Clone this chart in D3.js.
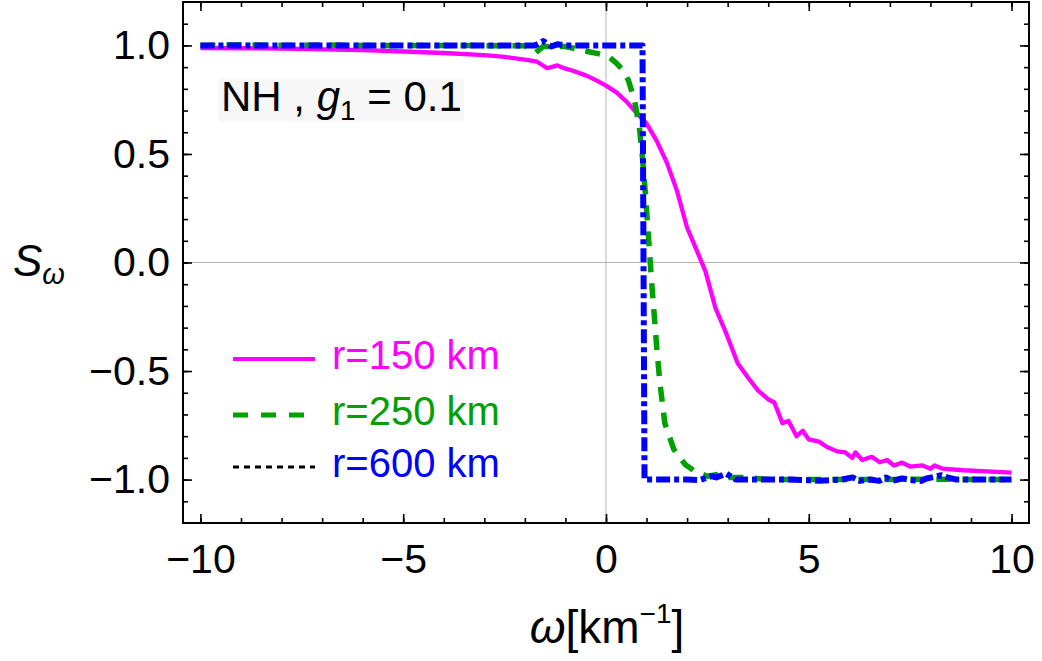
<!DOCTYPE html>
<html>
<head>
<meta charset="utf-8">
<script src="https://cdn.jsdelivr.net/npm/d3@7"></script>
<style>
  body { margin: 0; background: #fff; }
  text { font-family: "Liberation Sans", Arial, Helvetica, sans-serif; }
</style>
</head>
<body>
<script>
// series: [omega, S_omega]
var r150 = [
  [-10, 0.988], [-9, 0.987], [-8, 0.985], [-7, 0.982], [-6, 0.978], [-5, 0.972],
  [-4, 0.965], [-3, 0.955], [-2.5, 0.947], [-2, 0.935], [-1.7, 0.925], [-1.45, 0.895],
  [-1.2, 0.908], [-1.0, 0.893], [-0.8, 0.882], [-0.5, 0.862], [-0.25, 0.84], [0, 0.815],
  [0.25, 0.785], [0.5, 0.742], [0.75, 0.69], [1.0, 0.64], [1.25, 0.56], [1.5, 0.46],
  [1.75, 0.33], [2.0, 0.16], [2.25, 0.05], [2.45, -0.04], [2.7, -0.21], [2.95, -0.32],
  [3.25, -0.465], [3.5, -0.53], [3.75, -0.59], [4.0, -0.63], [4.15, -0.645], [4.35, -0.74],
  [4.5, -0.73], [4.7, -0.80], [4.85, -0.775], [5.0, -0.815], [5.25, -0.825], [5.45, -0.85],
  [5.7, -0.87], [5.9, -0.875], [6.07, -0.9], [6.15, -0.875], [6.32, -0.91], [6.55, -0.895],
  [6.75, -0.92], [6.93, -0.91], [7.1, -0.935], [7.3, -0.922], [7.5, -0.94], [7.8, -0.935],
  [8.0, -0.95], [8.1, -0.935], [8.3, -0.95], [8.8, -0.957], [9.4, -0.962], [10, -0.968]
];
var r250 = [
  [-10, 1.0], [-9, 1.003], [-8, 1.0], [-7, 1.002], [-6, 1.0], [-5, 1.0], [-4, 1.0],
  [-3, 0.999], [-2, 0.998], [-1.75, 0.965], [-1.55, 0.995], [-1.0, 0.995], [-0.75, 0.985],
  [-0.45, 0.972], [-0.2, 0.962], [0.05, 0.95], [0.25, 0.92], [0.4, 0.89], [0.55, 0.84],
  [0.7, 0.75], [0.82, 0.63], [0.9, 0.48], [0.97, 0.32], [1.02, 0.19], [1.07, 0.06],
  [1.12, -0.08], [1.18, -0.22], [1.25, -0.39], [1.33, -0.555], [1.45, -0.74], [1.67, -0.86],
  [1.95, -0.93], [2.2, -0.963], [2.5, -0.985], [2.72, -0.978], [3.0, -0.99], [3.46, -0.99],
  [4, -1.0], [5, -1.0], [6, -1.0], [7, -1.0], [8, -0.998], [9, -1.0], [10, -1.0]
];
var r600 = [
  [-10, 1.0], [-8, 1.0], [-6, 1.0], [-4, 1.0], [-2, 1.0], [-1.75, 1.0], [-1.55, 1.02],
  [-1.35, 0.995], [-1.2, 1.005], [-1.0, 1.0], [0, 1.0], [0.9, 1.0], [0.95, -1.0],
  [1.5, -1.0], [2.0, -1.0], [2.3, -1.003], [2.6, -0.985], [2.72, -0.99], [2.97, -0.973],
  [3.2, -1.0], [4.5, -1.0], [5.26, -1.005], [5.8, -1.0], [6.08, -0.99], [6.25, -1.006],
  [6.5, -1.0], [6.74, -1.006], [6.9, -0.99], [7.07, -1.005], [7.3, -0.995], [7.56, -1.003],
  [7.78, -1.006], [7.9, -0.995], [8.15, -0.985], [8.27, -0.98], [8.42, -0.99], [8.64, -1.0],
  [9.3, -1.0], [10, -1.0]
];

var xMajor = [-10, -5, 0, 5, 10];
var xMajorLabels = ["\u221210", "\u22125", "0", "5", "10"];
var xMinor = d3.range(-10, 11, 1);
var yMajor = [-1, -0.5, 0, 0.5, 1];
var yMajorLabels = ["\u22121.0", "\u22120.5", "0.0", "0.5", "1.0"];
var yMinor = [-1.1, -1.0, -0.9, -0.8, -0.7, -0.6, -0.5, -0.4, -0.3, -0.2, -0.1, 0, 0.1, 0.2, 0.3, 0.4, 0.5, 0.6, 0.7, 0.8, 0.9, 1.0, 1.1];
var legendLabels = ["r=150 km", "r=250 km", "r=600 km"];

var width = 1042, height = 661;
var plot = {left: 183, right: 1029, top: 2, bottom: 523};

var svg = d3.select("body").append("svg")
    .attr("width", width)
    .attr("height", height);

var x = d3.scaleLinear().domain([-10.43, 10.43]).range([plot.left, plot.right]);
var y = d3.scaleLinear().domain([-1.2, 1.2]).range([plot.bottom, plot.top]);

// zero lines
svg.append("line")
    .attr("x1", x(0)).attr("x2", x(0))
    .attr("y1", plot.top).attr("y2", plot.bottom)
    .attr("stroke", "#b4b4b4").attr("stroke-width", 1);
svg.append("line")
    .attr("x1", plot.left).attr("x2", plot.right)
    .attr("y1", y(0)).attr("y2", y(0))
    .attr("stroke", "#b4b4b4").attr("stroke-width", 1);

// annotation box
svg.append("rect")
    .attr("x", 218).attr("y", 78).attr("width", 246).attr("height", 44)
    .attr("fill", "#f7f7f7");

var series = [
    {name: legendLabels[0], values: r150, color: "#ff00ff", width: 4.3, dash: null},
    {name: legendLabels[1], values: r250, color: "#00a000", width: 5.5, dash: "15,11"},
    {name: legendLabels[2], values: r600, color: "#0000ff", width: 6, dash: "14,4,5,4"}
];

var line = d3.line()
    .x(d => x(d[0]))
    .y(d => y(d[1]));

svg.selectAll(".curve")
    .data(series)
    .enter()
    .append("path")
    .attr("class", "curve")
    .attr("fill", "none")
    .attr("stroke", d => d.color)
    .attr("stroke-width", d => d.width)
    .attr("stroke-dasharray", d => d.dash)
    .attr("stroke-linejoin", "round")
    .attr("d", d => line(d.values));

// axes, ticks pointing inward
function styleAxis(g) {
    g.select(".domain").remove();
    g.selectAll("line").attr("stroke", "#000").attr("stroke-width", 1.6);
    g.selectAll("text")
        .attr("fill", "#000")
        .style("font-family", "'Liberation Sans', Arial, Helvetica, sans-serif")
        .style("font-size", "41px");
}

svg.append("g")
    .attr("transform", `translate(0,${plot.bottom})`)
    .call(d3.axisBottom(x).tickValues(xMinor).tickSize(-5).tickFormat(""))
    .call(styleAxis);
svg.append("g")
    .attr("transform", `translate(0,${plot.bottom})`)
    .call(d3.axisBottom(x).tickValues(xMajor).tickSize(-9).tickPadding(21)
        .tickFormat((d, i) => xMajorLabels[i]))
    .call(styleAxis);
svg.append("g")
    .attr("transform", `translate(0,${plot.top})`)
    .call(d3.axisTop(x).tickValues(xMinor).tickSize(-5).tickFormat(""))
    .call(styleAxis);
svg.append("g")
    .attr("transform", `translate(0,${plot.top})`)
    .call(d3.axisTop(x).tickValues(xMajor).tickSize(-9).tickFormat(""))
    .call(styleAxis);

svg.append("g")
    .attr("transform", `translate(${plot.left},0)`)
    .call(d3.axisLeft(y).tickValues(yMinor).tickSize(-5).tickFormat(""))
    .call(styleAxis);
svg.append("g")
    .attr("transform", `translate(${plot.left},0)`)
    .call(d3.axisLeft(y).tickValues(yMajor).tickSize(-9).tickPadding(13)
        .tickFormat((d, i) => yMajorLabels[i]))
    .call(styleAxis);
svg.append("g")
    .attr("transform", `translate(${plot.right},0)`)
    .call(d3.axisRight(y).tickValues(yMinor).tickSize(-5).tickFormat(""))
    .call(styleAxis);
svg.append("g")
    .attr("transform", `translate(${plot.right},0)`)
    .call(d3.axisRight(y).tickValues(yMajor).tickSize(-9).tickFormat(""))
    .call(styleAxis);

// frame
svg.append("rect")
    .attr("x", plot.left).attr("y", plot.top)
    .attr("width", plot.right - plot.left).attr("height", plot.bottom - plot.top)
    .attr("fill", "none").attr("stroke", "#000").attr("stroke-width", 2);

// annotation
var note = svg.append("text")
    .attr("x", 221).attr("y", 111)
    .style("font-size", "42px");
note.append("tspan").text("NH , ");
note.append("tspan").style("font-style", "italic").text("g");
note.append("tspan").attr("dy", 9).style("font-size", "28px").text("1");
note.append("tspan").attr("dy", -9).text(" = 0.1");

// legend
var legendSwatch = [
    {color: "#ff00ff", width: 4, dash: null},
    {color: "#00a000", width: 5, dash: "15,13"},
    {color: "#000000", width: 3, dash: "6,5"}
];
var legendRows = [359, 415, 467];
var legendColors = ["#ff00ff", "#00a000", "#0000ff"];

var legend = svg.append("g");
legend.selectAll("line")
    .data(legendSwatch)
    .enter()
    .append("line")
    .attr("x1", 233).attr("x2", 315)
    .attr("y1", (d, i) => legendRows[i]).attr("y2", (d, i) => legendRows[i])
    .attr("stroke", d => d.color)
    .attr("stroke-width", d => d.width)
    .attr("stroke-dasharray", d => d.dash);
legend.selectAll("text")
    .data(legendLabels)
    .enter()
    .append("text")
    .attr("x", 332)
    .attr("y", (d, i) => legendRows[i] + 10)
    .attr("fill", (d, i) => legendColors[i])
    .style("font-size", "40px")
    .text(d => d);

// axis titles
var yTitle = svg.append("text")
    .attr("x", 13).attr("y", 276)
    .style("font-size", "44px");
yTitle.append("tspan").style("font-style", "italic").text("S");
yTitle.append("tspan").attr("dy", 8).style("font-size", "29px").style("font-style", "italic").text("\u03c9");

var xTitle = svg.append("text")
    .attr("x", 607).attr("y", 643)
    .attr("text-anchor", "middle")
    .style("font-size", "46px");
xTitle.append("tspan").style("font-style", "italic").text("\u03c9");
xTitle.append("tspan").text("[km");
xTitle.append("tspan").attr("dy", -20).style("font-size", "28px").text("\u22121");
xTitle.append("tspan").attr("dy", 20).text("]");
</script>
</body>
</html>
